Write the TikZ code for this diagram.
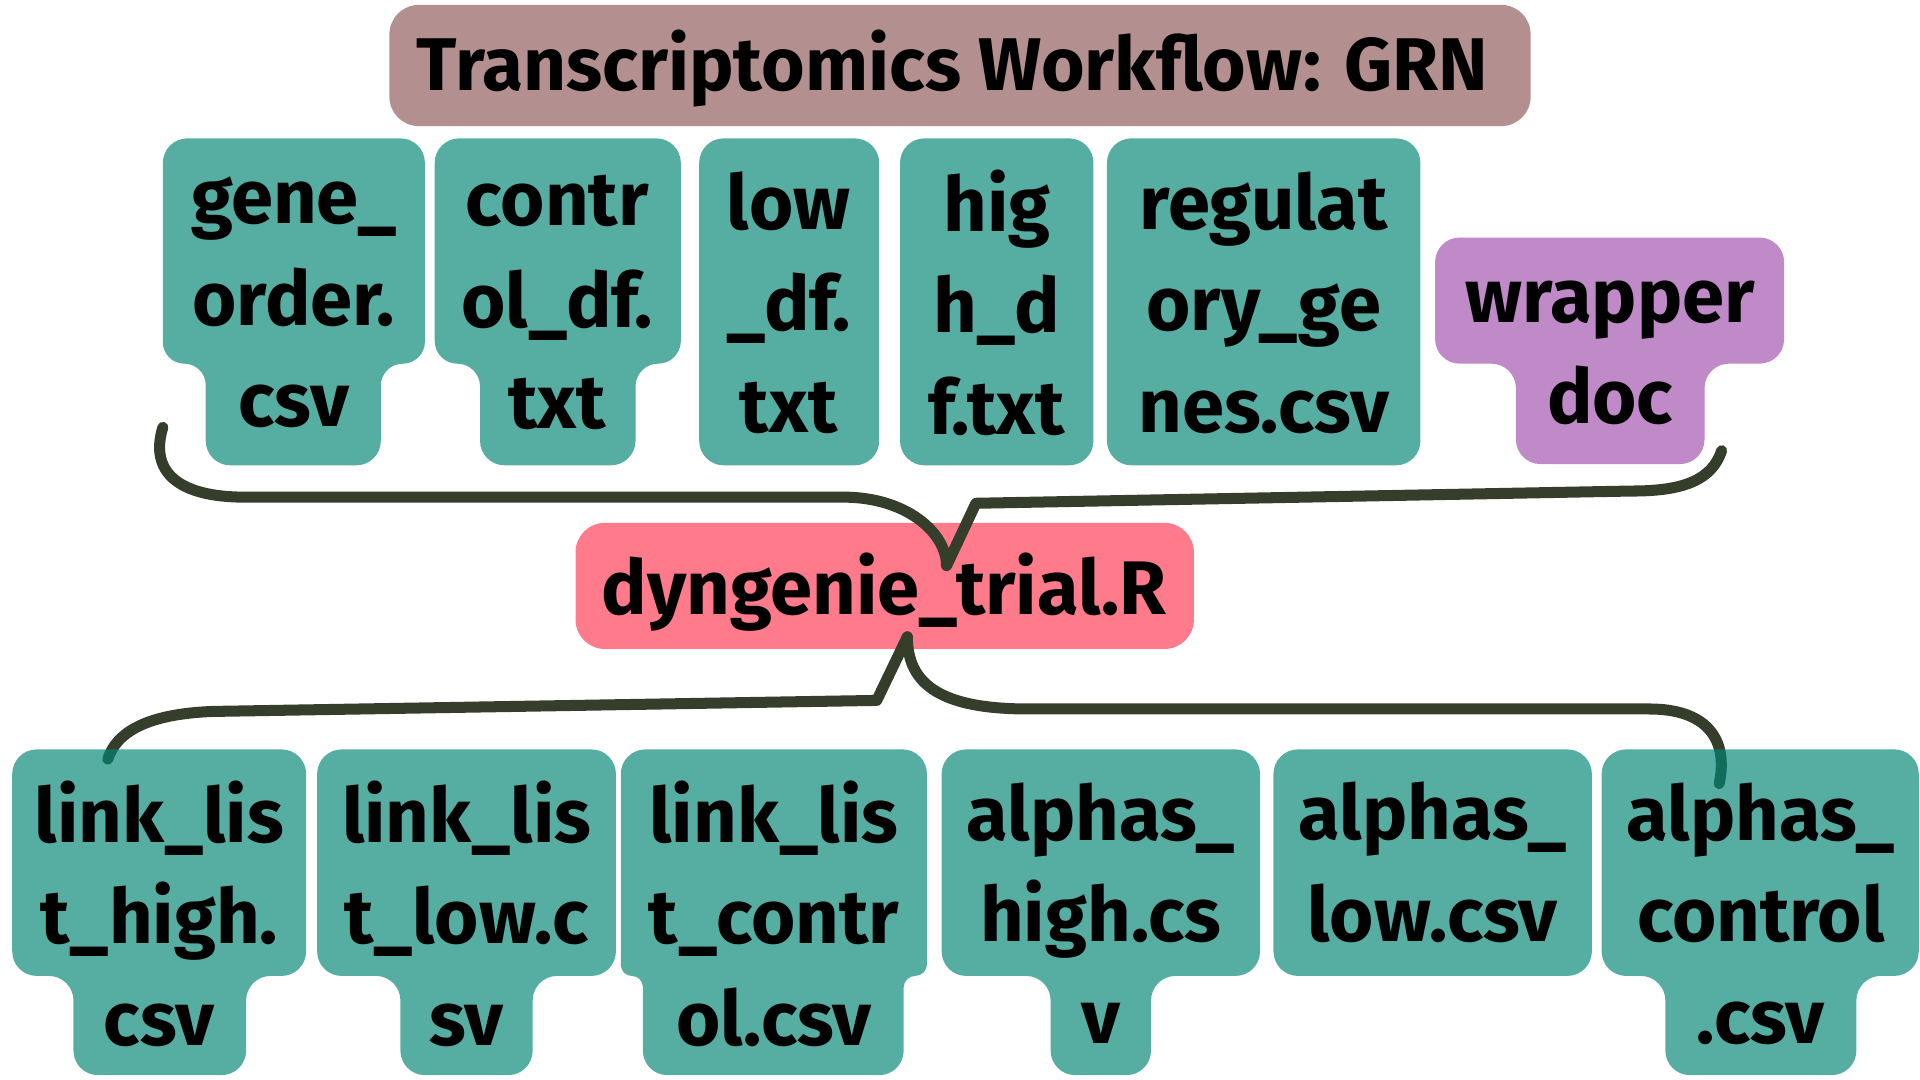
\documentclass[tikz,border=0pt]{standalone}
\usepackage{fontspec}
\setmainfont{Fira Sans}
\usepackage{tikz}
\usetikzlibrary{calc}

\definecolor{titlebg}{HTML}{B48F8F}
\definecolor{filebg}{HTML}{038674}
\definecolor{scriptbg}{HTML}{FF7A8A}
\definecolor{docbg}{HTML}{C089C8}
\definecolor{linkcol}{HTML}{353D2B}

% box with a wide upper part and a narrower last line
\newcommand{\tabbox}[8]{%
  \pgfmathsetmacro{\rl}{min(20,(#6-#2)/2)}%
  \pgfmathsetmacro{\rr}{min(20,(#3-#7)/2)}%
  \path[#1] (#2+20,#4) -- (#3-20,#4) arc[start angle=-90,end angle=0,radius=20]
    -- (#3,#5-\rr) arc[start angle=0,end angle=90,radius=\rr]
    -- (#7+\rr,#5) arc[start angle=-90,end angle=-180,radius=\rr]
    -- (#7,#8-20) arc[start angle=0,end angle=90,radius=20]
    -- (#6+20,#8) arc[start angle=90,end angle=180,radius=20]
    -- (#6,#5+\rl) arc[start angle=0,end angle=-90,radius=\rl]
    -- (#2+\rl,#5) arc[start angle=90,end angle=180,radius=\rl]
    -- (#2,#4+20) arc[start angle=180,end angle=270,radius=20] -- cycle;
}

\begin{document}
\begin{tikzpicture}[x=0.5pt, y=-0.5pt,
    filebox/.style={fill=filebg, fill opacity=0.67},
    docbox/.style={fill=docbg},
    filetext/.style={align=center, inner sep=0pt, text=black,
      font=\fontsize{31pt}{41.5pt}\selectfont\bfseries,
      execute at begin node=\strut, execute at end node=\strut},
    link/.style={draw=linkcol, line width=4.5pt, line cap=round, line join=round}]
  \useasboundingbox (0,0) rectangle (1568,882);

  % title
  \path[fill=titlebg, rounded corners=12pt] (318,4) rectangle (1250,103);
  \node[filetext, font=\fontsize{30.5pt}{41.5pt}\selectfont\bfseries] (title) at (778,57) {Transcriptomics Workflow: GRN};

  % inputs
  \tabbox{filebox}{133}{347}{113}{297}{168}{311}{380}
  \node[filetext] (geneorder) at (240,259) {gene\_\\order.\\csv};
  \tabbox{filebox}{355}{556}{113}{297}{392}{519}{380}
  \node[filetext] (controldf) at (455,259) {contr\\ol\_df.\\txt};
  \path[filebox, rounded corners=10pt] (571,113) rectangle (718,380);
  \node[filetext] (lowdf) at (644,259) {low\\\_df.\\txt};
  \path[filebox, rounded corners=10pt] (735,113) rectangle (893,380);
  \node[filetext] (highdf) at (814,259) {hig\\h\_d\\f.txt};
  \path[filebox, rounded corners=10pt] (904,113) rectangle (1160,380);
  \node[filetext] (reggenes) at (1032,259) {regulat\\ory\_ge\\nes.csv};
  \tabbox{docbox}{1172}{1457}{194}{297}{1238}{1392}{379}
  \node[filetext] (wrapper) at (1315,300) {wrapper\\doc};

  % script
  \path[fill=scriptbg, rounded corners=12pt] (470,427) rectangle (975,530);
  \node[filetext] (dyngenie) at (722,485) {dyngenie\_trial.R};

  \coordinate (dynTop) at (773,462);
  \coordinate (dynBot) at (741,520);
  \coordinate (inLeft) at (133,349);
  \coordinate (inRight) at (1406,368);
  \coordinate (outLeft) at (88,620);
  \coordinate (outRight) at (1404,640);

  \draw[link] (inLeft) .. controls (122,385) and (145,406) .. (200,406) -- (689,406)
    .. controls (740,406) and (773,435) .. (dynTop);
  \draw[link] (inRight) .. controls (1398,392) and (1375,401) .. (1333,401) -- (797,411) -- (dynTop);
  \draw[link] (dynBot) -- (716,572) -- (174,581) .. controls (120,583) and (95,598) .. (outLeft);
  \draw[link] (dynBot) .. controls (741,560) and (770,579) .. (840,579) -- (1347,579)
    .. controls (1392,579) and (1412,602) .. (outRight);

  % outputs
  \tabbox{filebox}{10}{250}{612}{797}{60}{201}{878}
  \node[filetext] (linkhigh) at (130,758) {link\_lis\\t\_high.\\csv};
  \tabbox{filebox}{259}{503}{612}{797}{327}{435}{878}
  \node[filetext] (linklow) at (381,758) {link\_lis\\t\_low.c\\sv};
  \tabbox{filebox}{507}{757}{612}{797}{525}{738}{878}
  \node[filetext] (linkcontrol) at (632,758) {link\_lis\\t\_contr\\ol.csv};
  \tabbox{filebox}{769}{1029}{612}{797}{858}{940}{878}
  \node[filetext] (alphashigh) at (899,758) {alphas\_\\high.cs\\v};
  \path[filebox, rounded corners=10pt] (1040,612) rectangle (1300,797);
  \node[filetext] (alphaslow) at (1170,716) {alphas\_\\low.csv};
  \tabbox{filebox}{1308}{1567}{612}{797}{1360}{1516}{878}
  \node[filetext] (alphascontrol) at (1438,758) {alphas\_\\control\\.csv};
\end{tikzpicture}
\end{document}
